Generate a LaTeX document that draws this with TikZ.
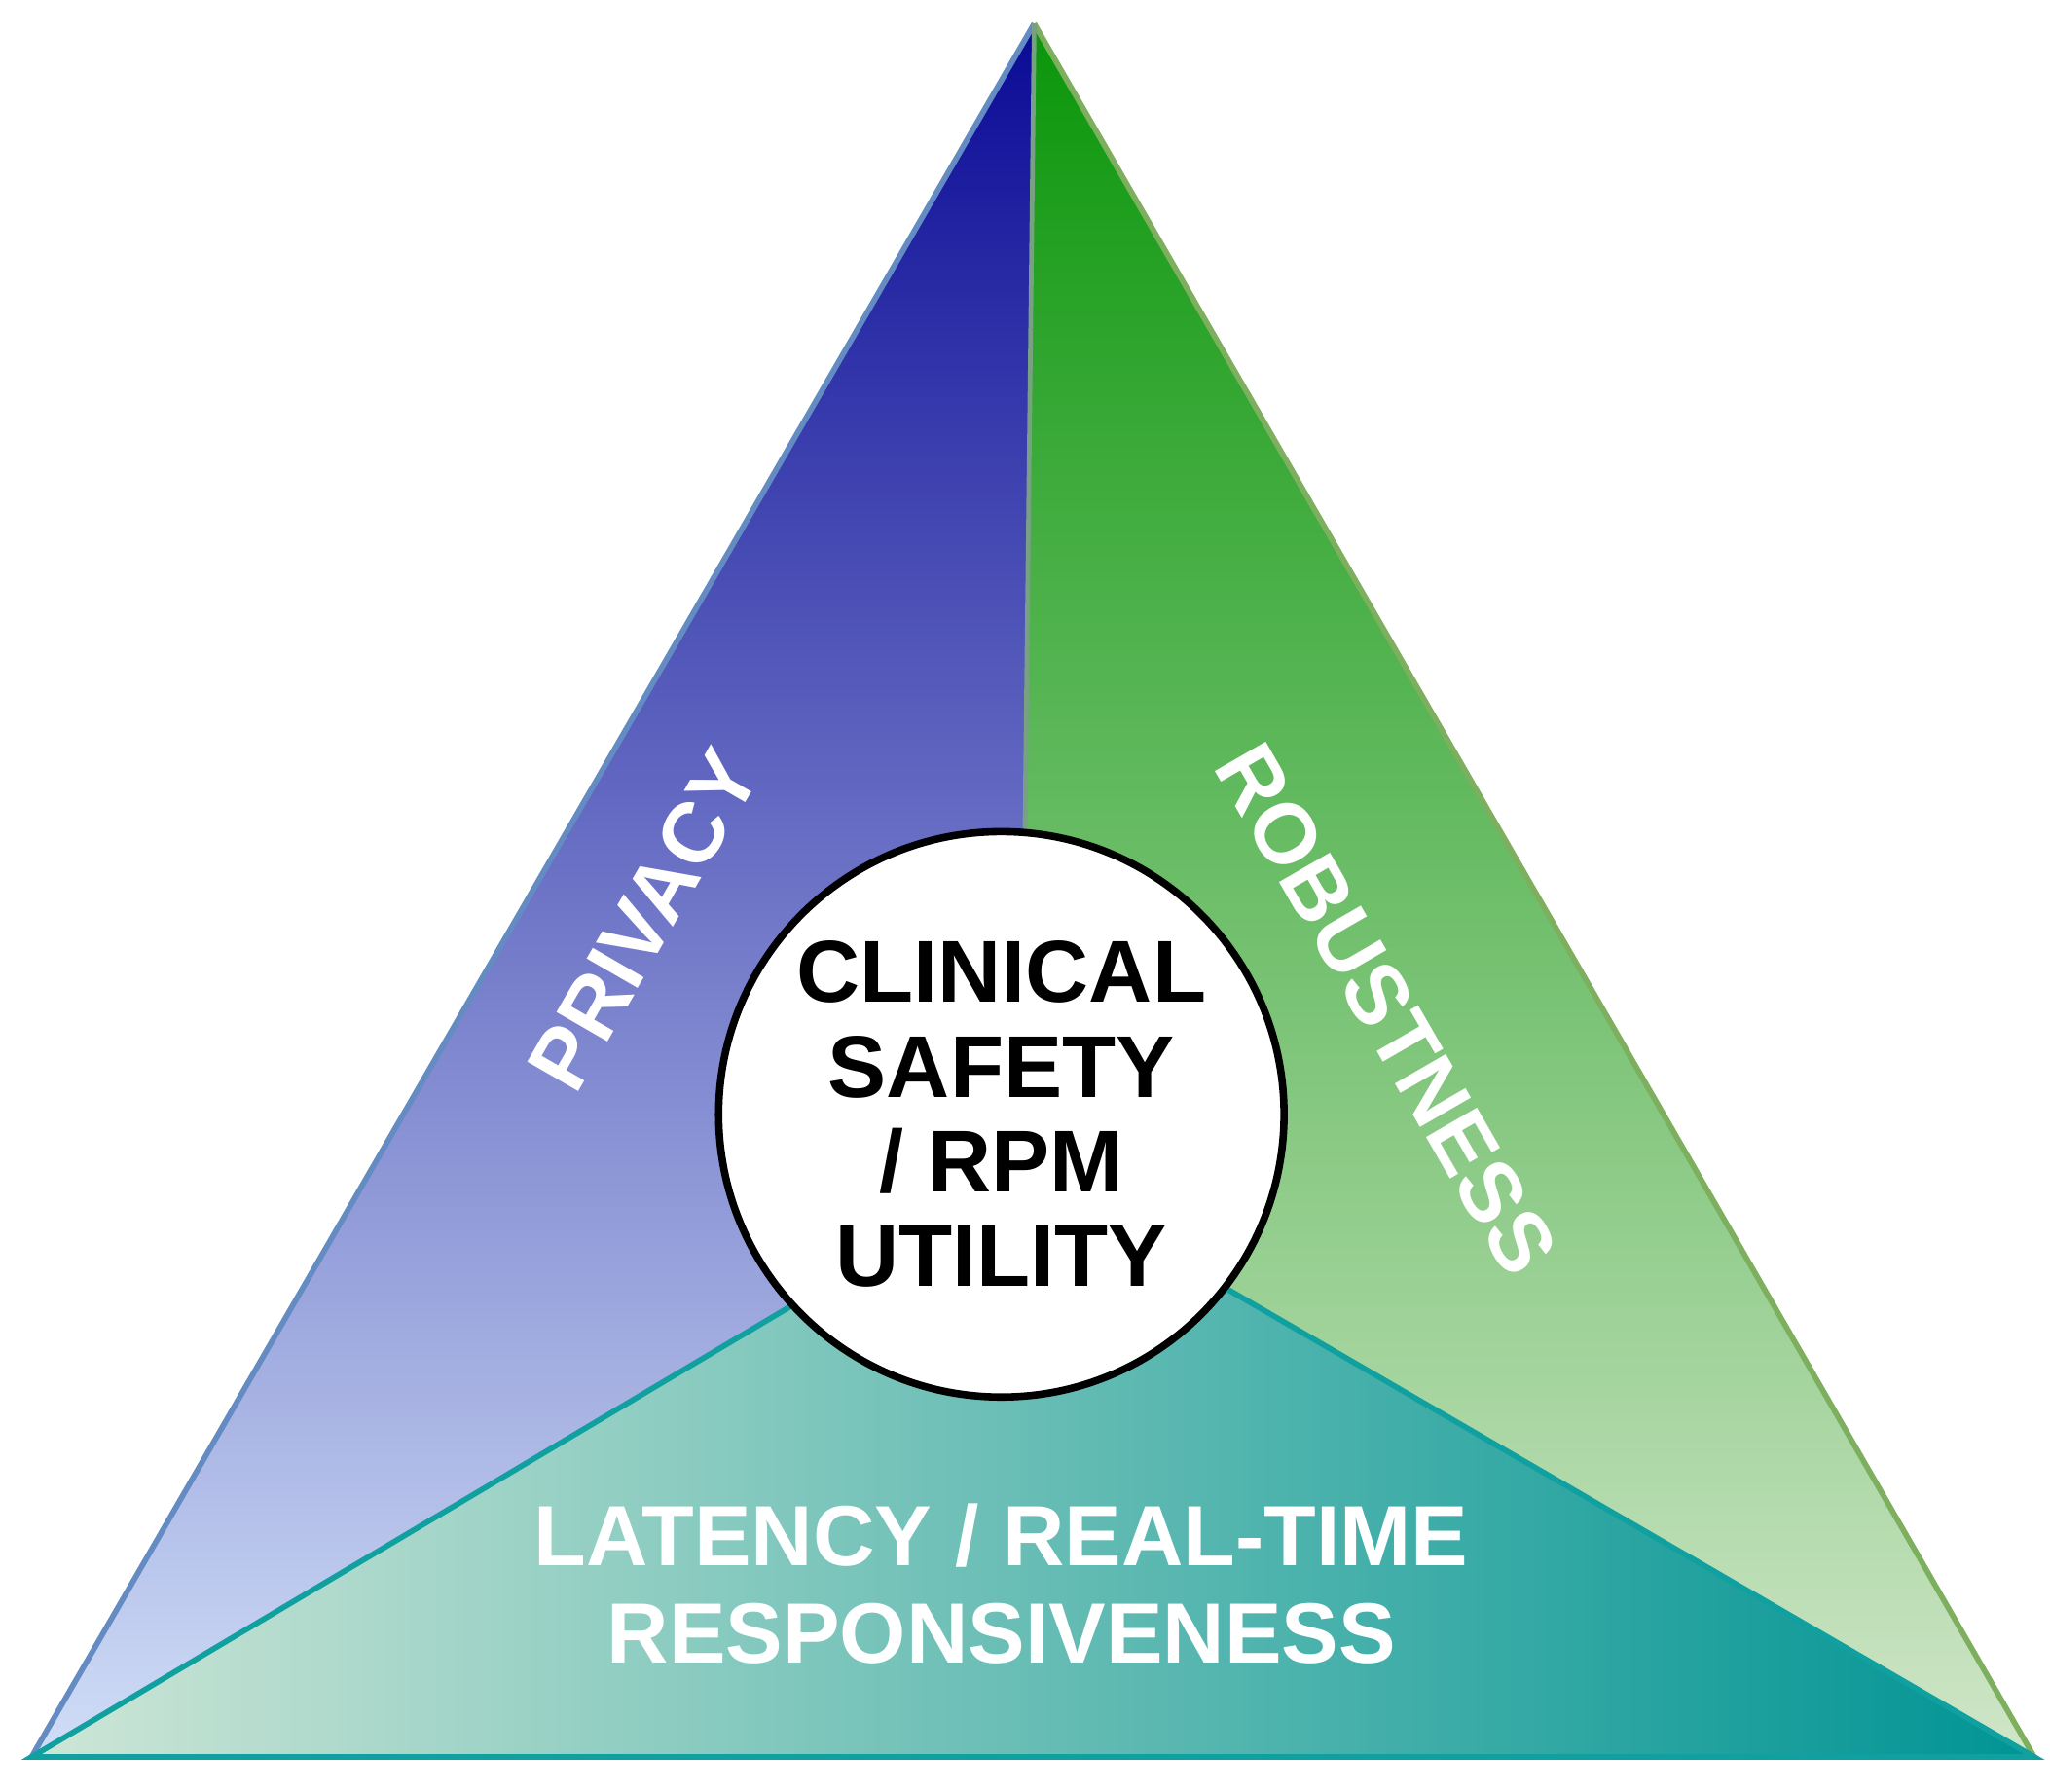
\documentclass[tikz,border=0pt]{standalone}
\usepackage{fontspec}
\setmainfont{Liberation Sans}
\begin{document}
\begin{tikzpicture}[x=0.01cm,y=-0.01cm,
  lbl/.style={font=\bfseries\fontsize{18.5}{21}\selectfont,text=white,align=center,inner sep=0pt},
  ctr/.style={circle,draw=black,line width=1.6pt,fill=white,minimum size=4.3cm,inner sep=0pt,font=\bfseries\fontsize{19}{20.5}\selectfont,align=center}]
\useasboundingbox (0,0) rectangle (1560,1363);
\coordinate (A) at (787,18);
\coordinate (L) at (24,1337);
\coordinate (R) at (1548,1337);
\coordinate (S) at (777,890);
\shade[top color={rgb,255:red,10;green,10;blue,150}, bottom color={rgb,255:red,208;green,222;blue,247}] (A) -- (S) -- (L) -- cycle;
\shade[top color={rgb,255:red,10;green,150;blue,10}, bottom color={rgb,255:red,208;green,230;blue,200}] (A) -- (R) -- (S) -- cycle;
\shade[left color={rgb,255:red,206;green,230;blue,214}, right color={rgb,255:red,0;green,148;blue,148}] (L) -- (S) -- (R) -- cycle;
\draw[line width=1.2pt,color={rgb,255:red,100;green,140;blue,195}] (L) -- (A);
\draw[line width=1.2pt,color={rgb,255:red,125;green,175;blue,95}] (A) -- (R);
\draw[line width=1pt,color={rgb,255:red,120;green,160;blue,130}] (A) -- (S);
\draw[line width=1.2pt,color={rgb,255:red,16;green,160;blue,160}] (L) -- (S) -- (R) -- cycle;
\node[ctr] (c) at (762,848) {CLINICAL\\SAFETY\\/ RPM\\UTILITY};
\node[lbl,rotate=60] (p) at (490,700) {PRIVACY};
\node[lbl,rotate=-60] (r) at (1055,768) {ROBUSTNESS};
\node[lbl] (t) at (762,1205) {LATENCY / REAL-TIME\\RESPONSIVENESS};
\end{tikzpicture}
\end{document}
